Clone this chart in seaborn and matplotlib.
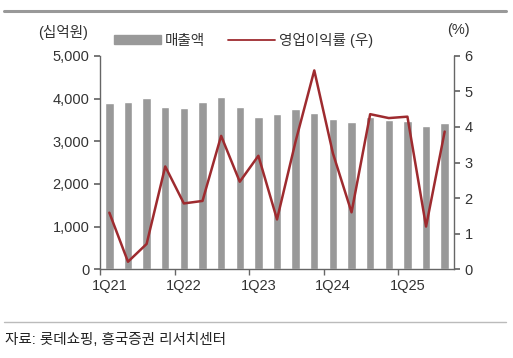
import numpy as np
import pandas as pd
import matplotlib
matplotlib.use("Agg")
import matplotlib.pyplot as plt
import matplotlib.lines as mlines
import matplotlib.patches as mpatches
from matplotlib.ticker import FixedLocator, NullFormatter, FuncFormatter
import seaborn as sns

# quarters 1Q21 ~ 3Q25
quarters = ["1Q21", "2Q21", "3Q21", "4Q21",
            "1Q22", "2Q22", "3Q22", "4Q22",
            "1Q23", "2Q23", "3Q23", "4Q23",
            "1Q24", "2Q24", "3Q24", "4Q24",
            "1Q25", "2Q25", "3Q25"]
# 매출액 (십억원)
revenue = [3902, 3925, 4019, 3800, 3785, 3916, 4026, 3808,
           3575, 3645, 3755, 3660, 3528, 3450, 3575, 3505,
           3465, 3364, 3426]
# 영업이익률 (%)
margin = [1.59, 0.21, 0.71, 2.89, 1.85, 1.92, 3.75, 2.46,
          3.19, 1.40, 3.60, 5.59, 3.26, 1.60, 4.36, 4.25,
          4.29, 1.20, 3.87]
tick_labels = ["1Q21", "1Q22", "1Q23", "1Q24", "1Q25"]

df = pd.DataFrame({"quarter": quarters, "revenue": revenue, "margin": margin})
df["pos"] = np.arange(len(df))

sns.set_theme(style="white")
plt.rcParams["font.family"] = ["Liberation Sans", "Noto Sans CJK KR"]

bar_color = "#999999"
line_color = "#9E2B2F"
axis_color = "#666666"
text_color = "#333333"

fig = plt.figure(figsize=(5.13, 3.58), dpi=100)
ax = fig.add_axes([0.195, 0.248, 0.69, 0.596])

# 매출액 bars
sns.barplot(data=df, x="quarter", y="revenue", color=bar_color, width=0.45,
            saturation=1, ax=ax)
ax.set_xlim(-0.5, len(df) - 0.5)
ax.set_ylim(0, 5000)
ax.set_yticks([0, 1000, 2000, 3000, 4000, 5000])
ax.yaxis.set_major_formatter(FuncFormatter(lambda v, p: f"{int(v):,}"))
ax.set_xlabel("")
ax.set_ylabel("")

# labels on every 4th quarter, tick marks between years
ax.xaxis.set_major_locator(FixedLocator([0, 4, 8, 12, 16]))
ax.set_xticklabels(tick_labels)
ax.xaxis.set_minor_locator(FixedLocator([-0.5, 3.5, 7.5, 11.5, 15.5]))
ax.xaxis.set_minor_formatter(NullFormatter())
ax.tick_params(axis="x", which="major", length=0, labelsize=10.5,
               colors=text_color, pad=7)
ax.tick_params(axis="x", which="minor", length=4, color=axis_color,
               direction="out", bottom=True)
ax.tick_params(axis="y", length=4, color=axis_color, direction="out",
               labelsize=10.5, labelcolor=text_color, left=True)

for s in ["top", "right"]:
    ax.spines[s].set_visible(False)
for s in ["left", "bottom"]:
    ax.spines[s].set_color(axis_color)
    ax.spines[s].set_linewidth(1.0)

# 영업이익률 line on the right axis
ax2 = ax.twinx()
sns.lineplot(data=df, x="pos", y="margin", color=line_color, linewidth=1.8,
             ax=ax2)
ax2.set_ylim(0, 6)
ax2.set_yticks([0, 1, 2, 3, 4, 5, 6])
ax2.set_xlim(-0.5, len(df) - 0.5)
ax2.set_ylabel("")
ax2.set_xlabel("")
ax2.tick_params(axis="y", length=4, color=axis_color, direction="out",
                labelsize=10.5, labelcolor=text_color, right=True)
for s in ["top", "left", "bottom"]:
    ax2.spines[s].set_visible(False)
ax2.spines["right"].set_color(axis_color)
ax2.spines["right"].set_linewidth(1.0)

# units and legend
fig.text(63 / 513, 1 - 33 / 358, "(십억원)", ha="center", va="center",
         fontsize=10.5, color=text_color)
fig.text(458 / 513, 1 - 30 / 358, "(%)", ha="center", va="center",
         fontsize=10.5, color=text_color)
handles = [mpatches.Patch(color=bar_color, label="매출액"),
           mlines.Line2D([], [], color=line_color, linewidth=1.3,
                         label="영업이익률 (우)")]
fig.legend(handles=handles, loc="center left",
           bbox_to_anchor=(108 / 513, 1 - 40 / 358), ncol=2, frameon=False,
           fontsize=10.5, handlelength=3.2, handleheight=0.6,
           handletextpad=0.3, columnspacing=1.6, borderaxespad=0,
           labelcolor=text_color)

# top and bottom rules, source
fig.add_artist(mlines.Line2D([4 / 513, 506 / 513], [1 - 11 / 358, 1 - 11 / 358],
                             color="#999999", linewidth=2.2))
fig.add_artist(mlines.Line2D([4 / 513, 506 / 513], [1 - 322 / 358, 1 - 322 / 358],
                             color="#bbbbbb", linewidth=1.0))
fig.text(5 / 513, 1 - 340 / 358, "자료: 롯데쇼핑, 흥국증권 리서치센터",
         ha="left", va="center", fontsize=10.5, color="#222222")

fig.savefig("out.png", dpi=100)
